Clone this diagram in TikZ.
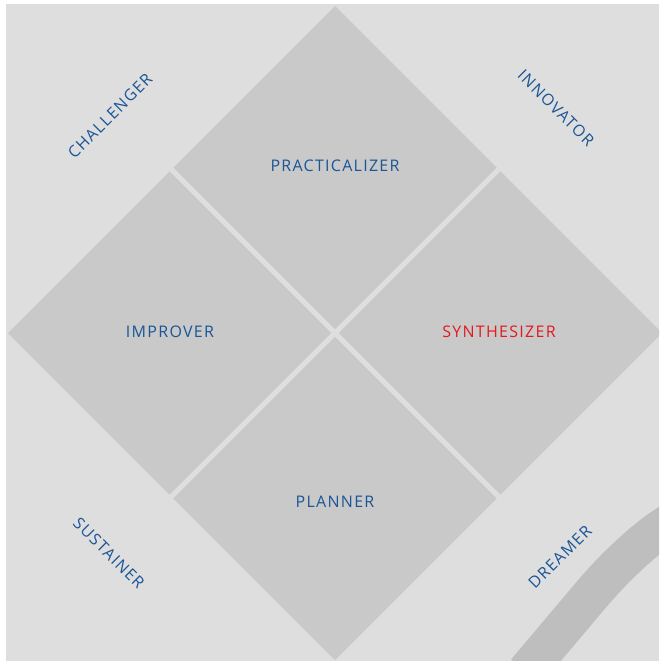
\documentclass[tikz,border=0pt]{standalone}
\usepackage{fontspec}
\setmainfont[LetterSpace=8]{Open Sans}

\definecolor{pagegray}{HTML}{DEDEDE}
\definecolor{tilegray}{HTML}{C9C9C9}
\definecolor{bandgray}{HTML}{BEBEBE}
\definecolor{roleblue}{HTML}{1A5596}
\definecolor{rolered}{HTML}{E3191E}

\tikzset{
  role/.style = {text = roleblue, inner sep = 1pt, font = \fontsize{16}{18}\selectfont},
  gap/.style = {pagegray, line width = 5pt}
}

\begin{document}
\begin{tikzpicture}[x = 1pt, y = -1pt]
\useasboundingbox (0,0) rectangle (659,661);
\fill[white] (0,0) rectangle (659,661);
\fill[pagegray] (6,4) rectangle (659,661);

\begin{scope}
\clip (6,4) rectangle (659,661);
% the bent band in the lower right corner
\draw[bandgray, line width = 39pt] (526,672) -- (591,595) .. controls (610.5,572) and (642,540) .. (670,523);
% four tiles: one big diamond cut along its diagonals
\fill[tilegray] (335,6) -- (662,333) -- (335,660) -- (8,333) -- cycle;
\draw[gap] (168,166) -- (502,500);
\draw[gap] (502,166) -- (168,500);
\end{scope}

\node[role] (practicalizer) at (335,166) {PRACTICALIZER};
\node[role] (improver) at (170,332) {IMPROVER};
\node[role, text = rolered] (synthesizer) at (499,332) {SYNTHESIZER};
\node[role] (planner) at (335,502) {PLANNER};

\foreach \name/\x/\y/\ang in {CHALLENGER/110/116/45, INNOVATOR/556/108/-45,
                              SUSTAINER/109/553/-45, DREAMER/560/557/45}
   \node[role, rotate = \ang] (\name) at (\x,\y) {\name};
\end{tikzpicture}
\end{document}
